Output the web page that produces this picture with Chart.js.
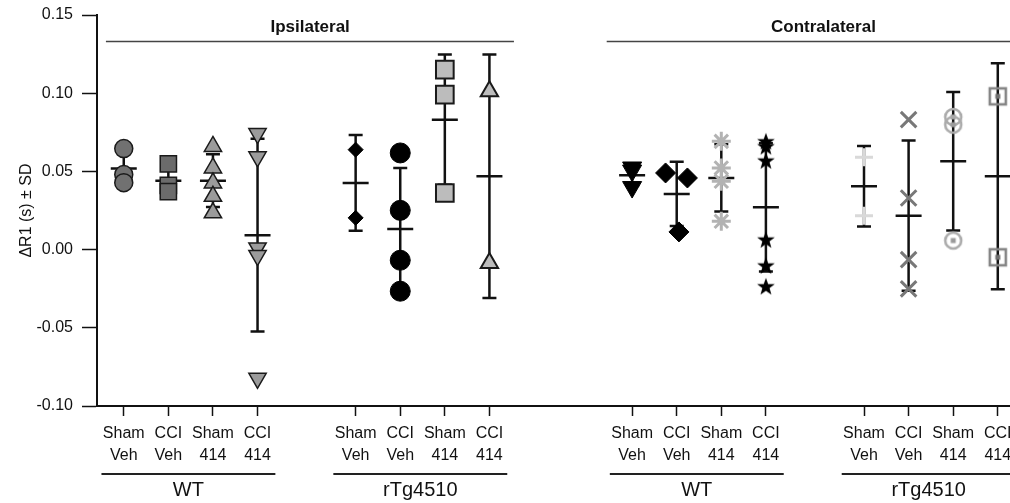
<!DOCTYPE html>
<html><head><meta charset="utf-8">
<script src="https://cdn.jsdelivr.net/npm/chart.js@4/dist/chart.umd.min.js"></script>
<style>
html,body{margin:0;padding:0;overflow:hidden;background:#fff;width:1010px;height:503px}
#wrap{width:1060px;height:503px}
</style></head>
<body><div id="wrap"><canvas id="c" width="1060" height="503"></canvas></div>
<script>
// ---------- DATA ----------
const groupPositions = [0, 1, 2, 3, 5.2, 6.2, 7.2, 8.2, 11.4, 12.4, 13.4, 14.4, 16.6, 17.6, 18.6, 19.6];
const tickLabels = [
  ['Sham','Veh'],['CCI','Veh'],['Sham','414'],['CCI','414'],
  ['Sham','Veh'],['CCI','Veh'],['Sham','414'],['CCI','414'],
  ['Sham','Veh'],['CCI','Veh'],['Sham','414'],['CCI','414'],
  ['Sham','Veh'],['CCI','Veh'],['Sham','414'],['CCI','414']
];
const yTickValues = [-0.10, -0.05, 0.00, 0.05, 0.10, 0.15];
const sideLabels = ['Ipsilateral', 'Contralateral'];
const genotypeLabels = ['WT', 'rTg4510', 'WT', 'rTg4510'];

// individual animals (ΔR1, s)
const ipsiWtShamVeh   = [0.0646, 0.0480, 0.0428];
const ipsiWtCciVeh    = [0.0548, 0.0410, 0.0371];
const ipsiWtSham414   = [0.0660, 0.0522, 0.0426, 0.0341, 0.0235];
const ipsiWtCci414    = [0.0742, 0.0593, 0.0011, -0.0038, -0.0823];
const ipsiTgShamVeh   = [0.0639, 0.0203];
const ipsiTgCciVeh    = [0.0618, 0.0251, -0.0068, -0.0266];
const ipsiTgSham414   = [0.1151, 0.0991, 0.0362];
const ipsiTgCci414    = [0.1012, -0.0085];
const contraWtShamVeh = [0.0525, 0.0505, 0.0400];
const contraWtCciVeh  = [0.0490, 0.0458, 0.0113];
const contraWtSham414 = [0.0692, 0.0522, 0.0437, 0.0181];
const contraWtCci414  = [0.0692, 0.0660, 0.0569, 0.0064, -0.0102, -0.0235];
const contraTgShamVeh = [0.0590, 0.0217];
const contraTgCciVeh  = [0.0831, 0.0330, -0.0064, -0.0251];
const contraTgSham414 = [0.0848, 0.0799, 0.0058];
const contraTgCci414  = [0.0980, -0.0049];
const contraWtCciVehOffset = [-0.25, 0.24, 0.05];

// group summaries
const groupMeans = [0.0518, 0.0441, 0.0441, 0.0092, 0.0426, 0.0132, 0.0831, 0.0469,
                    0.0475, 0.0356, 0.0458, 0.0270, 0.0405, 0.0217, 0.0565, 0.0469];
const groupSDs   = [0.0114, 0.0093, 0.0168, 0.0616, 0.0306, 0.0390, 0.0416, 0.0778,
                    0.0067, 0.0205, 0.0215, 0.0410, 0.0258, 0.0480, 0.0443, 0.0722];

const groupValues = [ipsiWtShamVeh, ipsiWtCciVeh, ipsiWtSham414, ipsiWtCci414,
  ipsiTgShamVeh, ipsiTgCciVeh, ipsiTgSham414, ipsiTgCci414,
  contraWtShamVeh, contraWtCciVeh, contraWtSham414, contraWtCci414,
  contraTgShamVeh, contraTgCciVeh, contraTgSham414, contraTgCci414];

// ---------- STYLE ----------
const FONT = "'Liberation Sans', Arial, Helvetica, sans-serif";

function makeMarker(w, draw){
  const c = document.createElement('canvas'); c.width = w; c.height = w;
  draw(c.getContext('2d'), w); return c;
}
const starMarker = makeMarker(20, (g, w) => {
  const cx = w/2, cy = w/2 + 0.7, R = 9.3, r = 3.8;
  g.beginPath();
  for (let k = 0; k < 10; k++) {
    const a = -Math.PI/2 + k*Math.PI/5, rr = k % 2 ? r : R;
    g.lineTo(cx + rr*Math.cos(a), cy + rr*Math.sin(a));
  }
  g.closePath(); g.fillStyle = '#000'; g.fill();
});
const ringDotMarker = makeMarker(22, (g, w) => {
  g.strokeStyle = '#ababab'; g.lineWidth = 2.6;
  g.beginPath(); g.arc(w/2, w/2, 8, 0, Math.PI*2); g.stroke();
  g.fillStyle = '#9a9a9a'; g.fillRect(w/2-2.5, w/2-2.5, 5, 5);
});
const boxDotMarker = makeMarker(22, (g, w) => {
  g.strokeStyle = '#858585'; g.lineWidth = 2.6;
  g.strokeRect(w/2-8, w/2-8, 16, 16);
  g.fillStyle = '#6f6f6f'; g.fillRect(w/2-2.5, w/2-2.5, 5, 5);
});

const BORDER = '#1a1a1a';
const groupStyles = [
  {pointStyle:'circle',   radius:9,    bg:'#717171', bc:BORDER, bw:1.5},
  {pointStyle:'rect',     radius:11.5, bg:'#6b6b6b', bc:BORDER, bw:1.5},
  {pointStyle:'triangle', radius:10,   bg:'#9b9b9b', bc:BORDER, bw:1.5},
  {pointStyle:'triangle', radius:10,   bg:'#9b9b9b', bc:BORDER, bw:1.5, rot:180},
  {pointStyle:'rectRot',  radius:7.5,  bg:'#000',    bc:'#000', bw:1},
  {pointStyle:'circle',   radius:10,   bg:'#000',    bc:'#000', bw:1},
  {pointStyle:'rect',     radius:12.5, bg:'#bcbcbc', bc:BORDER, bw:2},
  {pointStyle:'triangle', radius:10,   bg:'#bdbdbd', bc:BORDER, bw:2},
  {pointStyle:'triangle', radius:11,   bg:'#000',    bc:'#000', bw:1, rot:180},
  {pointStyle:'rectRot',  radius:10,   bg:'#000',    bc:'#000', bw:1},
  {pointStyle:'star',     radius:9.5,  bg:'#b3b3b3', bc:'#b3b3b3', bw:3},
  {pointStyle:starMarker, radius:10,   bg:'#000',    bc:'#000', bw:0},
  {pointStyle:'cross',    radius:9,    bg:'#d9d9d9', bc:'#d9d9d9', bw:3},
  {pointStyle:'crossRot', radius:11,   bg:'#787878', bc:'#787878', bw:3},
  {pointStyle:ringDotMarker, radius:10, bg:'#aaa',   bc:'#aaa', bw:0},
  {pointStyle:boxDotMarker,  radius:10, bg:'#888',   bc:'#888', bw:0}
];

const datasets = groupValues.map((vals, i) => {
  const st = groupStyles[i];
  return {
    type: 'scatter',
    data: vals.map((v, k) => ({
      x: groupPositions[i] + (i === 9 ? contraWtCciVehOffset[k] : 0),
      y: v
    })),
    pointStyle: st.pointStyle,
    pointRadius: st.radius,
    pointRotation: st.rot || 0,
    backgroundColor: st.bg,
    borderColor: st.bc,
    borderWidth: st.bw,
    clip: false
  };
});

const CAP = 7, MEAN = 13;
const errorBarPlugin = {
  id: 'errorBars',
  beforeDatasetsDraw(chart) {
    const {ctx, scales: {x, y}} = chart;
    ctx.save();
    ctx.strokeStyle = '#111'; ctx.lineWidth = 2.5; ctx.lineCap = 'butt';
    groupPositions.forEach((p, i) => {
      const px = x.getPixelForValue(p);
      const m = groupMeans[i], s = groupSDs[i];
      const yt = y.getPixelForValue(m + s), yb = y.getPixelForValue(m - s), ym = y.getPixelForValue(m);
      ctx.beginPath();
      ctx.moveTo(px, yt); ctx.lineTo(px, yb);
      ctx.moveTo(px - CAP, yt); ctx.lineTo(px + CAP, yt);
      ctx.moveTo(px - CAP, yb); ctx.lineTo(px + CAP, yb);
      ctx.moveTo(px - MEAN, ym); ctx.lineTo(px + MEAN, ym);
      ctx.stroke();
    });
    ctx.restore();
  }
};

// side headers [start, end, textCenter] and genotype brackets in axis units
const sideSpans = [[-0.40, 8.75, 4.18], [10.83, 20.6, 15.69]];
const genotypeSpans = [[-0.5, 3.4], [4.7, 8.6], [10.9, 14.8], [16.1, 20.0]];

const annotationPlugin = {
  id: 'annotations',
  afterDraw(chart) {
    const {ctx, scales: {x}, chartArea} = chart;
    ctx.save();
    ctx.font = 'bold 17px ' + FONT;
    ctx.textAlign = 'center'; ctx.textBaseline = 'middle';
    ctx.fillStyle = '#111';
    sideSpans.forEach((s, i) => {
      ctx.fillText(sideLabels[i], x.getPixelForValue(s[2]), chartArea.top + 12);
      ctx.strokeStyle = '#444'; ctx.lineWidth = 1.6;
      ctx.beginPath();
      ctx.moveTo(x.getPixelForValue(s[0]), chartArea.top + 26.5);
      ctx.lineTo(x.getPixelForValue(s[1]), chartArea.top + 26.5);
      ctx.stroke();
    });
    const yLine = chartArea.bottom + 68;
    ctx.font = '20px ' + FONT;
    genotypeSpans.forEach((s, i) => {
      const a = x.getPixelForValue(s[0]), b = x.getPixelForValue(s[1]);
      ctx.strokeStyle = '#222'; ctx.lineWidth = 2;
      ctx.beginPath(); ctx.moveTo(a, yLine); ctx.lineTo(b, yLine); ctx.stroke();
      ctx.fillText(genotypeLabels[i], (a + b) / 2, chartArea.bottom + 84);
    });
    ctx.restore();
  }
};

new Chart(document.getElementById('c'), {
  type: 'scatter',
  data: {datasets},
  options: {
    responsive: false,
    animation: false,
    events: [],
    layout: {padding: {top: 15, right: 10, left: 0, bottom: 0}},
    plugins: {legend: {display: false}, tooltip: {enabled: false}},
    scales: {
      x: {
        type: 'linear', min: -0.6, max: 20.67,
        afterBuildTicks: s => { s.ticks = groupPositions.map(v => ({value: v})); },
        afterFit: s => { s.height = 97; s.paddingLeft = 0; s.paddingRight = 0; },
        ticks: {
          autoSkip: false, maxRotation: 0, minRotation: 0,
          callback: (v, i) => tickLabels[i],
          font: {family: FONT, size: 16, lineHeight: 1.375},
          color: '#111', padding: 7
        },
        grid: {drawOnChartArea: false, tickLength: 10, tickColor: '#111', tickWidth: 1.5},
        border: {color: '#111', width: 2}
      },
      y: {
        min: -0.10, max: 0.15,
        afterBuildTicks: s => { s.ticks = yTickValues.map(v => ({value: v})); },
        afterFit: s => { s.width = 97; s.paddingTop = 0; s.paddingBottom = 0; },
        ticks: {
          callback: v => v.toFixed(2),
          font: {family: FONT, size: 16, lineHeight: 1.0}, color: '#111', padding: 9
        },
        grid: {drawOnChartArea: false, tickLength: 15, tickColor: '#111', tickWidth: 1.5},
        border: {color: '#111', width: 2},
        title: {display: true, text: 'ΔR1 (s) ± SD', font: {family: FONT, size: 16}, color: '#111', padding: {top: 17, bottom: 0}}
      }
    }
  },
  plugins: [errorBarPlugin, annotationPlugin]
});
</script>
</body></html>
